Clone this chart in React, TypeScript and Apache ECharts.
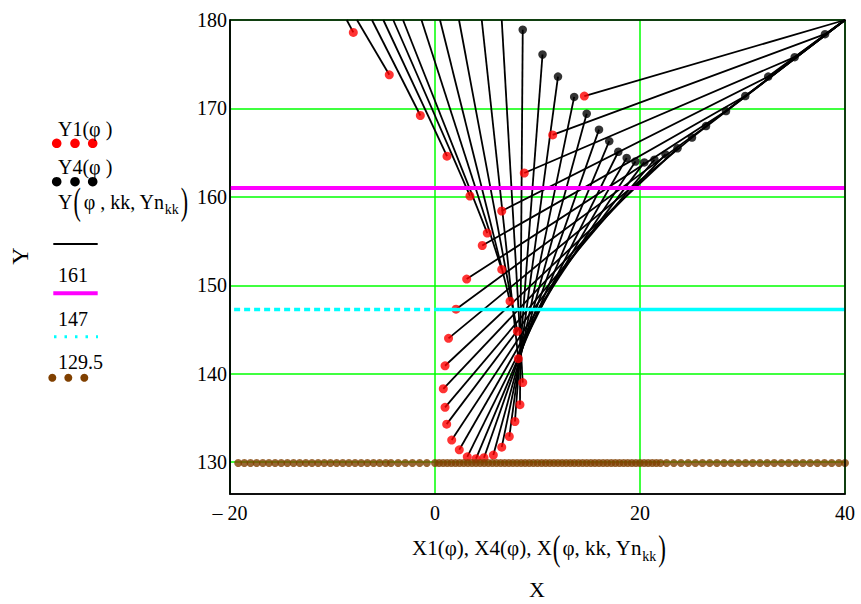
import React, { useEffect, useRef } from "react";
import * as echarts from "echarts";

const FONT = '"Liberation Serif", "Times New Roman", serif';

// Y1(φ) – red points (X1, Y1)
const redX = [-7.97, -4.46, -1.43, 1.17, 3.41, 5.1, 6.51, 7.32, 8.03, 8.13, 8.56, 8.29, 7.8, 7.25, 6.51, 5.69, 4.78, 4.0, 3.15, 2.37, 1.63, 1.14, 0.98, 0.81, 0.98, 1.32, 2.05, 3.09, 4.61, 6.51, 8.71, 11.48, 14.57];
const redY = [178.6, 173.8, 169.2, 164.6, 160.1, 155.9, 151.8, 148.2, 144.8, 141.7, 139.0, 136.5, 134.6, 132.9, 131.7, 130.8, 130.5, 130.4, 130.6, 131.4, 132.5, 134.3, 136.2, 138.3, 140.9, 144.0, 147.3, 150.7, 154.5, 158.4, 162.7, 167.0, 171.4];

// Y4(φ) – black points (X4, Y4) visible inside the plot
const blackX = [8.56, 10.49, 12.0, 13.58, 14.8, 16.0, 17.0, 17.88, 18.7, 19.56, 20.42, 21.41, 22.49, 23.66, 25.07, 26.44, 28.39, 30.27, 32.51, 35.09, 38.05];
const blackY = [178.9, 176.1, 173.6, 171.3, 169.4, 167.6, 166.3, 165.1, 164.4, 164.0, 163.9, 164.2, 164.8, 165.5, 166.7, 168.0, 169.7, 171.4, 173.6, 175.8, 178.4];

// where the first rods leave the plot through its top edge (Y = 180)
const topExitX = [-8.61, -7.61, -6.15, -5.04, -4.07, -3.12, -1.32, 0.49, 2.34, 4.56, 6.51];
const topY = 180;
// far end shared by the last rods
const farEnd = [40, 180];

// constant traces
const level161 = 161;
const level147 = 147.25;
const level129 = 129.9;
const cyanDottedX = [-19.6, 0.4];
const cyanSolidX = [0.4, 40];
const magentaX = [-20, 40];
const brownX = [
  -19.2, -18.6, -18.0, -17.4, -16.8, -16.2, -15.6, -15.0, -14.4, -13.8, -13.2, -12.6, -12.0, -11.4, -10.8, -10.2,
  -9.6, -9.0, -8.4, -7.8, -7.2, -6.6, -6.0, -5.4, -4.8, -4.3, -3.6, -2.9, -2.2, -1.5, -0.8,
  0.0, 0.4, 0.8, 1.2, 1.6, 2.0, 2.4, 2.8, 3.2, 3.6, 4.0, 4.4, 4.8, 5.2, 5.6, 6.0, 6.4, 6.8, 7.2, 7.6, 8.0, 8.4, 8.8,
  9.2, 9.6, 10.0, 10.4, 10.8, 11.2, 11.6, 12.0, 12.4, 12.8, 13.2, 13.6, 14.0, 14.4, 14.8, 15.2, 15.6, 16.0, 16.4,
  16.8, 17.2, 17.6, 18.0, 18.4, 18.8, 19.2, 19.6, 20.0, 20.4, 20.8, 21.2, 21.6, 22.0,
  22.6, 23.3, 24.0, 24.7, 25.4, 26.1, 26.8, 27.5, 28.2, 28.9, 29.6, 30.3, 31.0, 31.7, 32.4, 33.1, 33.8, 34.5,
  35.2, 35.9, 36.6, 37.3, 38.0, 38.7, 39.4, 40.0,
];

const xTicks = { min: -20, max: 40, interval: 20 };
const yTicks = [130, 140, 150, 160, 170, 180];

function measure(text: string, size: number): number {
  const ctx = document.createElement("canvas").getContext("2d");
  if (!ctx) return text.length * size * 0.5;
  ctx.font = `${size}px "Liberation Serif"`;
  return ctx.measureText(text).width;
}

type Piece = { text: string; size: number; dy?: number; scaleY?: number; padL?: number };

function txt(text: string, x: number, y: number, size: number, extra: any = {}) {
  return {
    type: "text",
    x,
    y,
    silent: true,
    z: 50,
    ...extra,
    style: {
      text,
      fontSize: size,
      fontFamily: FONT,
      fill: "#000",
      textAlign: extra.align || "left",
      textVerticalAlign: "middle",
      align: extra.align || "left",
      verticalAlign: "middle",
    },
  };
}

function chain(pieces: Piece[], x0: number, y: number, center: boolean) {
  const widths = pieces.map((p) => measure(p.text, p.size) + (p.padL || 0));
  const total = widths.reduce((a, b) => a + b, 0);
  let x = center ? x0 - total / 2 : x0;
  const out: any[] = [];
  pieces.forEach((p, i) => {
    out.push(txt(p.text, x + (p.padL || 0), y + (p.dy || 0), p.size, { scaleY: p.scaleY || 1 }));
    x += widths[i];
  });
  return out;
}

export default function App() {
  const ref = useRef<HTMLDivElement>(null);

  useEffect(() => {
    document.body.style.margin = "0";
    if (!ref.current) return;
    const chart = echarts.init(ref.current, null, { renderer: "svg" });

    const rodSeries: any[] = [];
    for (let i = 0; i < redX.length; i++) {
      const pts: number[][] = [[redX[i], redY[i]]];
      const bi = i - topExitX.length;
      if (i < topExitX.length) {
        pts.push([topExitX[i], topY]);
      } else if (bi < blackX.length) {
        pts.push([blackX[bi], blackY[bi]]);
        if (bi >= 14) pts.push(farEnd);
      } else {
        pts.push(farEnd);
      }
      rodSeries.push({
        type: "line",
        data: pts,
        symbol: "none",
        showSymbol: false,
        silent: true,
        z: 2,
        lineStyle: { color: "#000", width: 1.8 },
      });
    }

    const graphics: any[] = [
      // legend
      txt("Y1(φ )", 58, 128.5, 20),
      ...[56.7, 75, 92.7].map((cx) => ({ type: "circle", shape: { cx, cy: 143.3, r: 4.8 }, style: { fill: "#ff0000" }, silent: true })),
      txt("Y4(φ )", 58, 167, 20),
      ...[56.7, 75, 92.7].map((cx) => ({ type: "circle", shape: { cx, cy: 181.7, r: 4.8 }, style: { fill: "#000" }, silent: true })),
      ...chain(
        [
          { text: "Y", size: 20 },
          { text: "(", size: 22, scaleY: 1.7, padL: 1 },
          { text: "φ , kk, Yn", size: 20, padL: 3 },
          { text: "kk", size: 14, dy: 8 },
          { text: ")", size: 22, scaleY: 1.7, padL: 2 },
        ],
        58,
        201.5,
        false
      ),
      { type: "line", shape: { x1: 53.3, y1: 244, x2: 97.7, y2: 244 }, style: { stroke: "#000", lineWidth: 2 }, silent: true },
      txt("161", 58, 275, 20),
      { type: "line", shape: { x1: 53.3, y1: 293.3, x2: 97.7, y2: 293.3 }, style: { stroke: "#ff00ff", lineWidth: 4 }, silent: true },
      txt("147", 58, 318.5, 20),
      { type: "line", shape: { x1: 54, y1: 336.7, x2: 98, y2: 336.7 }, style: { stroke: "#00ffff", lineWidth: 3, lineDash: [2.5, 8] }, silent: true },
      txt("129.5", 58, 361.5, 20),
      ...[52.3, 68.3, 84.3].map((cx) => ({ type: "circle", shape: { cx, cy: 377.7, r: 4 }, style: { fill: "#804000" }, silent: true })),
      // axis titles
      txt("Y", 20, 256, 24, { rotation: Math.PI / 2, align: "center" }),
      ...chain(
        [
          { text: "X1(φ), X4(φ), X", size: 21 },
          { text: "(", size: 23, scaleY: 1.6, padL: 1 },
          { text: "φ, kk, Yn", size: 21, padL: 2 },
          { text: "kk", size: 14, dy: 8 },
          { text: ")", size: 23, scaleY: 1.6, padL: 2 },
        ],
        539,
        548,
        true
      ),
      txt("X", 537, 589, 22, { align: "center" }),
      // plot frame
      {
        type: "rect",
        shape: { x: 230, y: 20, width: 615, height: 474 },
        style: { fill: "none", stroke: "#000", lineWidth: 1.5 },
        silent: true,
        z: 40,
      },
    ];

    const option: any = {
      animation: false,
      grid: { left: 230, top: 20, width: 615, height: 474, show: false, containLabel: false, outerBoundsMode: "none" },
      xAxis: {
        type: "value",
        min: xTicks.min,
        max: xTicks.max,
        interval: xTicks.interval,
        axisLine: { show: true, onZero: false, lineStyle: { color: "#000", width: 1.5 } },
        axisTick: { show: false },
        splitLine: { show: true, lineStyle: { color: "#00ff00", width: 1.5 } },
        axisLabel: {
          formatter: (v: number) => (v < 0 ? "– " + Math.abs(v) : String(v)),
          fontFamily: FONT,
          fontSize: 20,
          color: "#000",
          margin: 9,
        },
      },
      yAxis: {
        type: "value",
        min: 126.4,
        max: 180,
        axisLine: { show: true, onZero: false, lineStyle: { color: "#000", width: 1.5 } },
        axisTick: { show: false, customValues: yTicks },
        splitLine: { show: true, lineStyle: { color: "#00ff00", width: 1.5 } },
        axisLabel: {
          customValues: yTicks,
          fontFamily: FONT,
          fontSize: 20,
          color: "#000",
          margin: 3,
        },
      },
      series: [
        ...rodSeries,
        {
          type: "scatter",
          data: redX.map((x, i) => [x, redY[i]]),
          symbol: "circle",
          symbolSize: 9,
          itemStyle: { color: "#ff0000" },
          silent: true,
          z: 3,
        },
        {
          type: "scatter",
          data: blackX.map((x, i) => [x, blackY[i]]),
          symbol: "circle",
          symbolSize: 8.5,
          itemStyle: { color: "#000" },
          silent: true,
          z: 3,
        },
        {
          type: "line",
          data: magentaX.map((x) => [x, level161]),
          symbol: "none",
          silent: true,
          z: 4,
          lineStyle: { color: "#ff00ff", width: 4 },
        },
        {
          type: "line",
          data: cyanDottedX.map((x) => [x, level147]),
          symbol: "none",
          silent: true,
          z: 4,
          lineStyle: { color: "#00ffff", width: 3.5, type: [6, 4] },
        },
        {
          type: "line",
          data: cyanSolidX.map((x) => [x, level147]),
          symbol: "none",
          silent: true,
          z: 4,
          lineStyle: { color: "#00ffff", width: 3.5 },
        },
        {
          type: "scatter",
          data: brownX.map((x) => [x, level129]),
          symbol: "circle",
          symbolSize: 8,
          itemStyle: { color: "#804000" },
          silent: true,
          z: 5,
        },
      ],
      graphic: { elements: graphics },
    };

    chart.setOption(option);
    return () => chart.dispose();
  }, []);

  return <div ref={ref} style={{ width: 861, height: 604 }} />;
}
